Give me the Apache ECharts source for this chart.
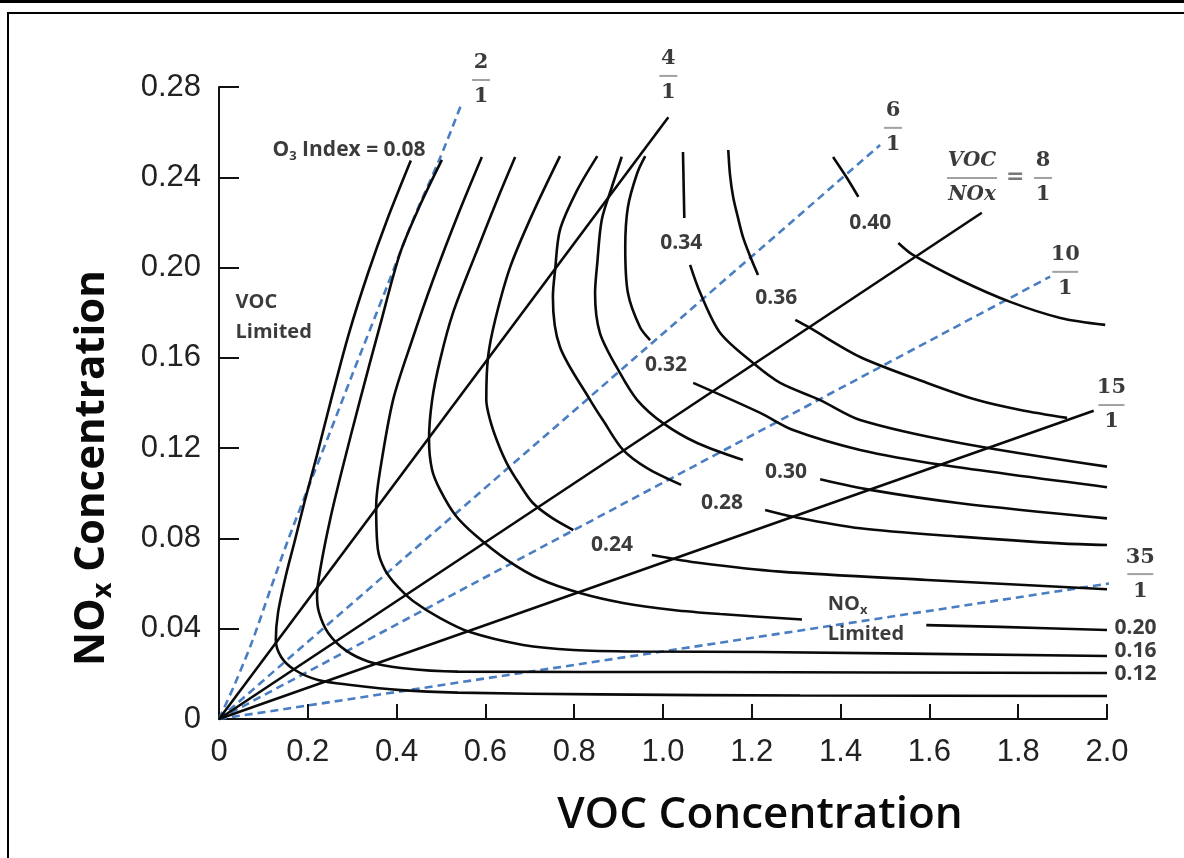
<!DOCTYPE html>
<html><head><meta charset="utf-8">
<script src="https://cdn.jsdelivr.net/npm/echarts/dist/echarts.min.js"></script>
<style>html,body{margin:0;padding:0;background:#fff}#c{width:1184px;height:858px}</style>
</head><body><div id="c"></div>
<script>
// ---- axis ticks ----
const xTicks = [0, 0.2, 0.4, 0.6, 0.8, 1.0, 1.2, 1.4, 1.6, 1.8, 2.0];
const yTicks = [0, 0.04, 0.08, 0.12, 0.16, 0.20, 0.24, 0.28];

// ---- ozone isopleths (VOC, NOx) ----
const iso08 = [[0.432,0.2474],[0.3785,0.2211],[0.3357,0.1976],[0.2929,0.1710],[0.2523,0.1413],[0.2208,0.1170],[0.1937,0.0970],[0.1712,0.0793],[0.1509,0.0638],[0.1329,0.0470],[0.128,0.0350],[0.140,0.0275],[0.171,0.0217],[0.223,0.0173],[0.297,0.0151],[0.410,0.0128],[0.538,0.0117],[0.858,0.0109],[1.309,0.0104],[2.0,0.0102]];
const iso12 = [[0.502,0.2477],[0.453,0.2277],[0.408,0.2065],[0.363,0.1746],[0.3176,0.1413],[0.2771,0.1103],[0.2501,0.0882],[0.2298,0.0682],[0.2208,0.0549],[0.225,0.0474],[0.246,0.0381],[0.284,0.0306],[0.336,0.0255],[0.410,0.0226],[0.538,0.0210],[1.084,0.0208],[2.0,0.0204]];
const iso16 = [[0.592,0.2490],[0.538,0.2233],[0.482,0.1945],[0.435,0.1679],[0.392,0.1413],[0.363,0.1103],[0.354,0.0948],[0.358,0.0749],[0.374,0.0660],[0.403,0.0585],[0.437,0.0523],[0.498,0.0447],[0.565,0.0385],[0.685,0.0328],[0.798,0.0306],[0.948,0.0299],[1.219,0.0297],[2.0,0.0279]];
const iso20a = [[0.667,0.2490],[0.633,0.2331],[0.579,0.2065],[0.527,0.1799],[0.498,0.1591],[0.480,0.1413],[0.473,0.1236],[0.480,0.1103],[0.498,0.1015],[0.532,0.0904],[0.577,0.0815],[0.649,0.0704],[0.723,0.0620],[0.813,0.0558],[0.910,0.0514],[1.023,0.0483],[1.129,0.0465],[1.313,0.0441]];
const iso20b = [[1.593,0.0416],[1.759,0.0408],[2.0,0.0394]];
const iso24a = [[0.768,0.2494],[0.707,0.2242],[0.656,0.2003],[0.622,0.1768],[0.606,0.1604],[0.602,0.1413],[0.6105,0.1325],[0.627,0.1228],[0.648,0.1134],[0.676,0.1043],[0.707,0.0957],[0.750,0.0891],[0.798,0.0837]];
const iso24b = [[0.975,0.0727],[1.084,0.0691],[1.264,0.0653],[1.595,0.0616],[2.0,0.0575]];
const iso28a = [[0.852,0.2494],[0.807,0.2344],[0.768,0.2167],[0.757,0.1989],[0.752,0.1870],[0.768,0.1648],[0.836,0.1413],[0.866,0.1320],[0.910,0.1192],[0.965,0.1110],[1.041,0.1037]];
const iso28b = [[1.230,0.0926],[1.293,0.0896],[1.444,0.0845],[1.669,0.0808],[1.895,0.0778],[2.0,0.0771]];
const iso30a = [[0.907,0.2491],[0.885,0.2358],[0.862,0.2211],[0.852,0.2020],[0.847,0.1887],[0.858,0.1710],[0.903,0.1533],[0.942,0.1413],[1.000,0.1311],[1.077,0.1223],[1.180,0.1148]];
const iso30b = [[1.354,0.1062],[1.467,0.1015],[1.669,0.0956],[2.0,0.0889]];
const iso32a = [[0.960,0.2494],[0.942,0.2419],[0.921,0.2268],[0.915,0.2091],[0.921,0.1887],[0.948,0.1737],[0.971,0.1679]];
const iso32b = [[1.068,0.1489],[1.219,0.1356],[1.293,0.1280],[1.444,0.1192],[1.631,0.1125],[2.0,0.1027]];
const iso34a = [[1.045,0.2512],[1.048,0.2220]];
const iso34b = [[1.061,0.2012],[1.084,0.1887],[1.129,0.1710],[1.203,0.1577],[1.264,0.1489],[1.354,0.1413],[1.444,0.1325],[1.669,0.1223],[2.0,0.1118]];
const iso36a = [[1.147,0.2521],[1.151,0.2410],[1.158,0.2313],[1.169,0.2220],[1.180,0.2136],[1.196,0.2051],[1.214,0.1967]];
const iso36b = [[1.298,0.1768],[1.327,0.1737],[1.444,0.1604],[1.595,0.1489],[1.708,0.1413],[1.805,0.1369],[1.910,0.1334]];
const iso40a = [[1.383,0.2490],[1.413,0.2401],[1.440,0.2313]];
const iso40b = [[1.530,0.2109],[1.563,0.2056],[1.669,0.1945],[1.782,0.1848],[1.895,0.1777],[1.996,0.1746]];

// ---- VOC/NOx ratio lines ----
const ratio4 = [[0,0],[1.012,0.2666]];
const ratio8 = [[0,0],[1.718,0.2243]];
const ratio15 = [[0,0],[1.970,0.1366]];
const ratio2 = [[0,0],[0.035,0.0152],[0.075,0.0345],[0.115,0.0570],[0.155,0.0790],[0.200,0.1020],[0.250,0.1270],[0.300,0.1525],[0.378,0.1914],[0.437,0.2211],[0.498,0.2486],[0.547,0.2729]];
const ratio6 = [[0,0],[1.489,0.2543]];
const ratio10 = [[0,0],[1.872,0.1960]];
const ratio35 = [[0,0],[2.030,0.0608]];

// ---- text annotations [text, VOC, NOx] ----
const isoLabels = [['0.34',1.041,0.2109],['0.32',1.007,0.1568],['0.36',1.255,0.1865],['0.40',1.467,0.2198],['0.24',0.885,0.0771],['0.28',1.133,0.0957],['0.30',1.277,0.1094]];
const endLabels = [['0.20',2.064,0.0403],['0.16',2.064,0.0301],['0.12',2.064,0.0199]];
const fracLabels = [['2',0.590,0.2831],['4',1.012,0.2849],['6',1.518,0.2619],['8',1.856,0.2397],['10',1.906,0.1981],['15',2.010,0.1391],['35',2.075,0.0642]];

const blk = '#0a0a0a';
const blue = '#4a7ec2';
function iso(d){return {type:'line',data:d,showSymbol:false,smooth:0.3,silent:true,clip:false,z:3,lineStyle:{color:blk,width:2.6}};}
function straight(d){return {type:'line',data:d,showSymbol:false,silent:true,clip:false,z:3,lineStyle:{color:blk,width:2.6}};}
function dash(d,s){return {type:'line',data:d,showSymbol:false,smooth:s||0,silent:true,clip:false,z:2,lineStyle:{color:blue,width:2.6,type:[8,5]}};}

const labFont = 'Open Sans';
const nb = {textBorderWidth:0,textShadowBlur:0};
const rich = {
  b:Object.assign({fontFamily:labFont,fontWeight:700,fontSize:21,color:blk},nb),
  s:Object.assign({fontFamily:labFont,fontWeight:700,fontSize:20,color:blk,lineHeight:30},nb),
  sub:Object.assign({fontFamily:labFont,fontWeight:700,fontSize:13,color:blk,padding:[12,0,0,0]},nb),
  n:Object.assign({fontFamily:'DejaVu Serif',fontWeight:'bold',fontSize:21,color:blk,lineHeight:22,align:'center'},nb),
  bar:{width:18,height:2,backgroundColor:'#8a8a8a',lineHeight:12,align:'center'},
  wbar:{width:26,height:2,backgroundColor:'#8a8a8a',lineHeight:12,align:'center'},
  vi:Object.assign({fontFamily:'DejaVu Serif',fontWeight:'bold',fontStyle:'italic',fontSize:20,color:blk,lineHeight:22,align:'center'},nb),
  vbar:{width:50,height:2,backgroundColor:'#8a8a8a',lineHeight:12,align:'center'},
  eq:Object.assign({fontFamily:'DejaVu Serif',fontWeight:'bold',fontSize:22,color:'#555'},nb)
};

function textSeries(items,pos){
  return {type:'scatter',symbolSize:1,itemStyle:{color:'rgba(255,255,255,0)'},silent:true,clip:false,z:5,
    data:items,
    label:{show:true,position:pos||'inside',distance:0,color:blk,textBorderWidth:0,formatter:p=>p.data.t,rich:rich}};
}
const annItems = [];
isoLabels.forEach(a=>annItems.push({value:[a[1],a[2]],t:'{b|'+a[0]+'}'}));
endLabels.forEach(a=>annItems.push({value:[a[1],a[2]],t:'{b|'+a[0]+'}'}));
fracLabels.forEach(a=>{
  const w = a[0].length>1 ? 'wbar':'bar';
  annItems.push({value:[a[1],a[2]],t:'{n|'+a[0]+'}\n{'+w+'| }\n{n|1}'});
});
annItems.push({value:[1.696,0.2397],t:'{vi|VOC}\n{vbar| }\n{vi|NOx}'});
annItems.push({value:[1.793,0.2400],t:'{eq|=}'});
annItems.push({value:[0.2929,0.2521],t:'{b|O}{sub|3}{b| Index = 0.08}'});

const leftItems = [
  {value:[0.036,0.1779],t:'{s|VOC}\n{s|Limited}'},
  {value:[1.370,0.0443],t:'{s|NO}{sub|x}\n{s|Limited}'}
];

const chart = echarts.init(document.getElementById('c'));
chart.setOption({
  animation:false,
  backgroundColor:'#fff',
  grid:{left:219,right:77,top:87,bottom:139},
  xAxis:{type:'value',min:0,max:2,interval:0.2,
    axisLine:{lineStyle:{color:'#111',width:2}},
    axisTick:{inside:true,length:15,lineStyle:{color:'#111',width:2}},
    splitLine:{show:false},
    axisLabel:{fontFamily:'Liberation Sans',fontSize:31,color:'#222',margin:18,
      formatter:v=>v===0?'0':v.toFixed(1)}
  },
  yAxis:{type:'value',min:0,max:0.28,interval:0.04,
    axisLine:{lineStyle:{color:'#111',width:2}},
    axisTick:{inside:true,length:20,lineStyle:{color:'#111',width:2}},
    splitLine:{show:false},
    axisLabel:{fontFamily:'Liberation Sans',fontSize:31,color:'#222',margin:18,
      formatter:v=>v===0?'0':v.toFixed(2)}
  },
  graphic:[
    {type:'rect',shape:{x:8,y:13,width:1200,height:900},style:{fill:'none',stroke:'#000',lineWidth:2},z:100},
    {type:'line',shape:{x1:0,y1:1.5,x2:1184,y2:1.5},style:{stroke:'#000',lineWidth:3},z:100},
    {type:'text',x:760,y:815,z:100,style:{text:'VOC Concentration',fontFamily:'Open Sans',fontWeight:600,fontSize:44,fill:'#0a0a0a',align:'center',verticalAlign:'middle'}},
    {type:'text',x:92,y:468,rotation:Math.PI/2,z:100,style:{text:'{t|NO}{s|x}{t| Concentration}',align:'center',verticalAlign:'middle',
      rich:{t:{fontFamily:'Open Sans',fontWeight:700,fontSize:42,fill:'#0a0a0a'},
            s:{fontFamily:'Open Sans',fontWeight:700,fontSize:27,fill:'#0a0a0a',padding:[22,0,0,0]}}}}
  ],
  series:[
    dash(ratio2,0.3),dash(ratio6),dash(ratio10),dash(ratio35),
    straight(ratio4),straight(ratio8),straight(ratio15),
    iso(iso08),iso(iso12),iso(iso16),iso(iso20a),iso(iso20b),iso(iso24a),iso(iso24b),
    iso(iso28a),iso(iso28b),iso(iso30a),iso(iso30b),iso(iso32a),iso(iso32b),
    iso(iso34a),iso(iso34b),iso(iso36a),iso(iso36b),iso(iso40a),iso(iso40b),
    textSeries(annItems),
    textSeries(leftItems,'right')
  ]
});
</script></body></html>
